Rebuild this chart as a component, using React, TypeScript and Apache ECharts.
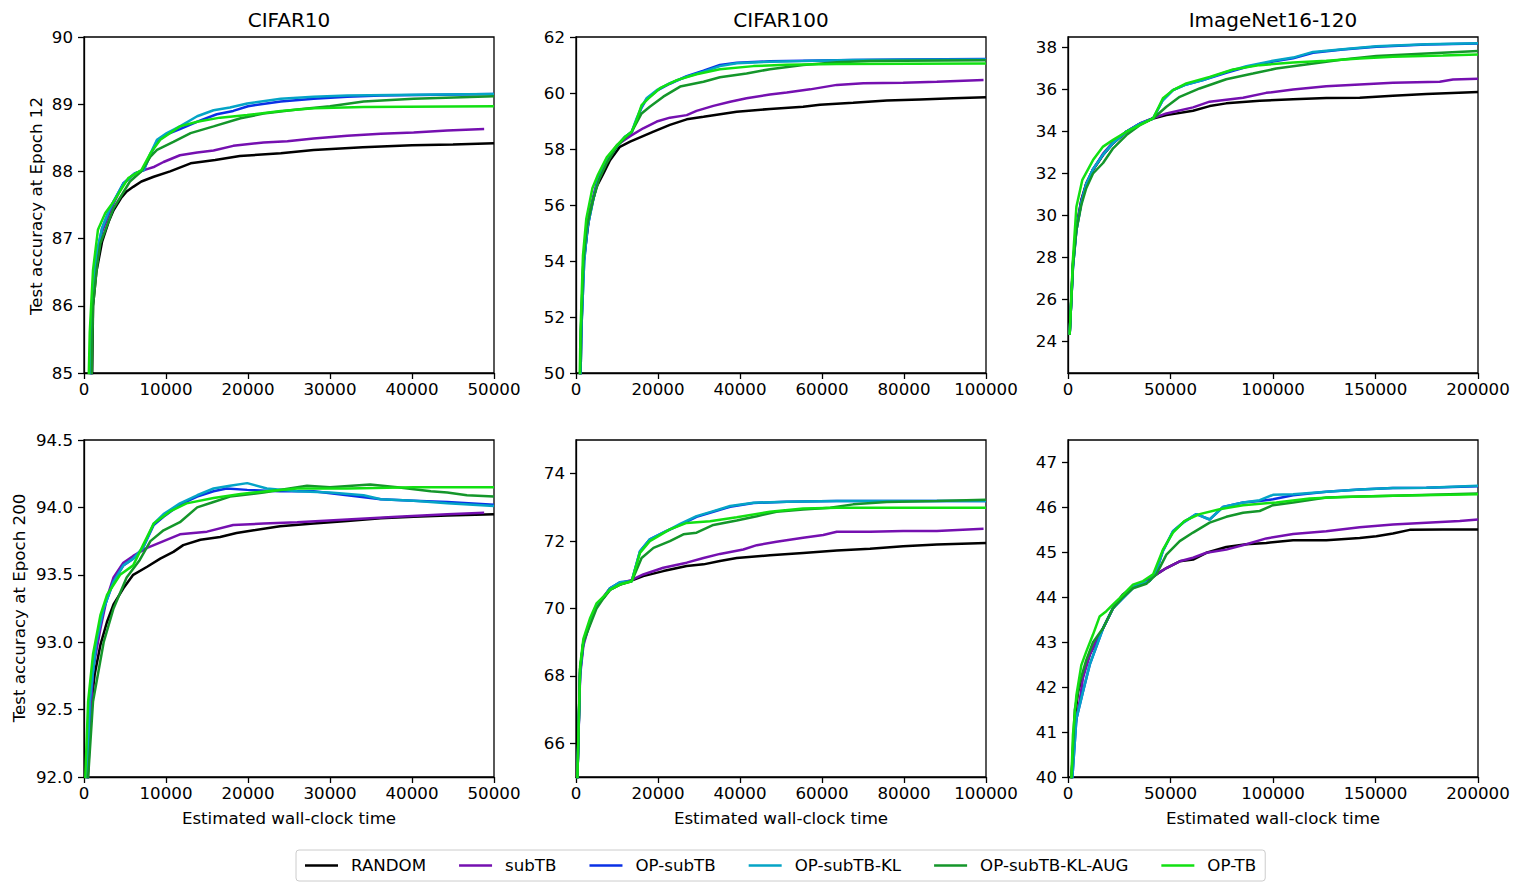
import React, { useEffect, useRef } from "react";
import * as echarts from "echarts";

const seriesNames = ["RANDOM", "subTB", "OP-subTB", "OP-subTB-KL", "OP-subTB-KL-AUG", "OP-TB"];
const seriesColors = ["#000000", "#7510b0", "#0a30e6", "#05a4c6", "#14962a", "#12e012"];

const titles = ["CIFAR10", "CIFAR100", "ImageNet16-120"];
const yNames = ["Test accuracy at Epoch 12", "Test accuracy at Epoch 200"];
const xName = "Estimated wall-clock time";

// ---------- CIFAR10, Epoch 12 ----------
const c10e12Random = [[900,84.0],[1100,86.0],[1500,86.5],[2200,86.95],[3000,87.25],[3600,87.42],[4500,87.6],[5200,87.7],[6000,87.77],[7000,87.85],[8500,87.92],[10500,88.0],[13000,88.12],[16000,88.17],[19000,88.23],[24000,88.27],[28000,88.32],[34000,88.36],[40000,88.39],[45000,88.4],[50000,88.42]];
const c10e12SubTB = [[700,84.0],[1000,86.0],[1500,86.7],[2200,87.1],[3000,87.35],[3600,87.52],[4800,87.82],[6200,87.97],[7600,88.03],[8600,88.07],[9700,88.14],[11700,88.24],[13800,88.28],[15800,88.31],[18200,88.38],[21900,88.43],[24800,88.45],[28000,88.49],[32100,88.53],[36200,88.56],[40200,88.58],[44300,88.61],[48800,88.63]];
const c10e12OpSubTB = [[700,84.0],[1000,86.0],[1500,86.75],[2200,87.15],[3000,87.4],[3600,87.55],[4800,87.82],[6200,87.97],[7300,88.02],[8000,88.22],[8900,88.45],[10100,88.55],[11700,88.63],[14200,88.76],[16200,88.85],[18200,88.9],[20000,88.97],[24000,89.04],[28000,89.08],[32100,89.11],[36200,89.13],[50000,89.15]];
const c10e12OpSubTBKL = [[700,84.0],[1000,86.0],[1500,86.75],[2200,87.15],[3000,87.4],[3600,87.55],[4800,87.82],[6200,87.97],[7300,88.02],[8000,88.24],[8900,88.47],[10100,88.57],[11700,88.67],[13800,88.82],[15800,88.91],[17800,88.95],[19900,89.01],[24000,89.08],[28000,89.11],[32100,89.13],[40200,89.14],[50000,89.15]];
const c10e12OpSubTBKLAug = [[800,84.0],[1100,86.0],[1600,86.6],[2000,86.93],[3600,87.45],[5600,87.85],[7000,88.0],[8100,88.22],[8900,88.32],[10900,88.44],[13000,88.57],[15800,88.67],[19100,88.79],[21900,88.86],[26000,88.92],[30000,88.97],[34100,89.04],[40200,89.08],[50000,89.12]];
const c10e12OpTB = [[400,84.0],[700,85.6],[1100,86.53],[1700,87.13],[2600,87.38],[3600,87.55],[5400,87.9],[7000,88.02],[8100,88.27],[9300,88.47],[11700,88.67],[13800,88.74],[16600,88.8],[19900,88.84],[24000,88.9],[28000,88.94],[34100,88.96],[50000,88.97]];

// ---------- CIFAR100, Epoch 12 ----------
const c100e12Random = [[1000,49],[1300,51.5],[1800,53.9],[3400,55.8],[5000,56.65],[6700,57.13],[8300,57.6],[10700,58.08],[13200,58.26],[18900,58.62],[22900,58.86],[27000,59.06],[31100,59.15],[39200,59.33],[47300,59.43],[55400,59.51],[59500,59.58],[67600,59.65],[75800,59.73],[83900,59.77],[92000,59.81],[100000,59.85]];
const c100e12SubTB = [[900,49],[1200,51.5],[1800,54.0],[2600,55.2],[4200,56.3],[5400,57.0],[7500,57.6],[10000,58.14],[13200,58.46],[16400,58.74],[19700,58.98],[22900,59.12],[27000,59.21],[29400,59.36],[33500,59.54],[37600,59.69],[41600,59.81],[47300,59.95],[51400,60.02],[57100,60.13],[63600,60.29],[70100,60.35],[79800,60.37],[88000,60.4],[99400,60.46]];
const c100e12OpSubTB = [[1000,49],[1300,51.5],[2000,54.0],[2800,55.2],[4200,56.2],[5400,56.9],[7500,57.55],[10000,58.1],[12000,58.44],[13600,58.6],[14800,59.05],[16000,59.48],[17200,59.78],[19700,60.08],[22900,60.33],[27000,60.6],[31100,60.8],[35100,61.0],[39200,61.08],[47300,61.13],[55400,61.15],[67600,61.18],[79800,61.2],[100000,61.21]];
const c100e12OpSubTBKL = [[1000,49],[1300,51.5],[2000,54.0],[2800,55.2],[4200,56.2],[5400,56.9],[7500,57.55],[10000,58.1],[12000,58.44],[13600,58.62],[14800,59.1],[16000,59.51],[17200,59.81],[19700,60.1],[22900,60.35],[27000,60.58],[31100,60.76],[35100,60.96],[39200,61.06],[47300,61.12],[55400,61.14],[67600,61.18],[79800,61.19],[100000,61.2]];
const c100e12OpSubTBKLAug = [[900,49],[1200,51.5],[1800,54.0],[2600,55.2],[4200,56.2],[5600,56.9],[7500,57.5],[10000,58.1],[12000,58.4],[13600,58.62],[16000,59.27],[18000,59.51],[21300,59.87],[25400,60.23],[31100,60.4],[35100,60.56],[41600,60.7],[47300,60.85],[55400,61.0],[63600,61.1],[71700,61.14],[79800,61.15],[100000,61.17]];
const c100e12OpTB = [[800,49],[1100,51.5],[1700,54.2],[2500,55.5],[4000,56.6],[5400,57.1],[7500,57.7],[10000,58.14],[12000,58.44],[13600,58.62],[14800,59.05],[16000,59.57],[17700,59.81],[20500,60.17],[24600,60.46],[29400,60.67],[35100,60.85],[43300,60.96],[51400,61.01],[63600,61.04],[100000,61.05]];

// ---------- ImageNet16-120, Epoch 12 ----------
const imgE12Random = [[800,24.32],[2400,27.73],[4100,29.47],[6500,30.74],[8900,31.53],[12200,32.17],[17100,32.88],[22000,33.44],[28500,33.99],[35000,34.36],[41500,34.62],[48000,34.78],[61000,34.99],[69100,35.21],[77200,35.34],[93500,35.46],[109800,35.54],[126000,35.59],[142300,35.61],[158500,35.7],[174800,35.78],[200000,35.88]];
const imgE12SubTB = [[800,24.32],[2400,27.6],[4100,29.4],[6500,30.7],[8900,31.5],[12200,32.2],[17100,32.95],[22000,33.5],[28500,34.0],[35000,34.38],[41500,34.64],[48000,34.86],[61000,35.15],[69100,35.42],[85400,35.61],[96700,35.84],[109800,36.0],[126000,36.16],[142300,36.24],[158500,36.32],[181300,36.37],[187800,36.48],[200000,36.51]];
const imgE12OpSubTB = [[800,24.32],[2400,27.5],[4100,29.3],[6500,30.6],[8900,31.5],[12200,32.2],[17100,32.9],[22000,33.45],[28500,34.0],[35000,34.36],[41500,34.62],[46300,35.5],[51200,35.97],[57700,36.24],[65900,36.45],[77200,36.8],[87000,37.07],[100000,37.33],[109800,37.49],[119500,37.75],[134100,37.9],[150400,38.04],[174800,38.14],[200000,38.19]];
const imgE12OpSubTBKL = [[800,24.32],[2400,27.5],[4100,29.3],[6500,30.6],[8900,31.5],[12200,32.2],[17100,32.9],[22000,33.45],[28500,34.0],[35000,34.36],[41500,34.62],[46300,35.5],[51200,35.97],[57700,36.24],[65900,36.45],[77200,36.84],[87000,37.11],[100000,37.37],[109800,37.52],[119500,37.79],[134100,37.92],[150400,38.06],[174800,38.16],[200000,38.2]];
const imgE12OpSubTBKLAug = [[800,24.32],[2400,27.6],[4100,29.3],[6500,30.5],[8900,31.3],[12200,32.0],[17100,32.5],[22000,33.2],[28500,33.83],[35000,34.3],[41500,34.62],[48000,35.18],[54500,35.65],[64200,36.05],[77200,36.49],[90200,36.76],[101600,37.0],[117900,37.21],[134100,37.43],[150400,37.59],[174800,37.71],[200000,37.83]];
const imgE12OpTB = [[800,24.32],[2400,27.9],[4100,30.42],[7000,31.7],[12200,32.64],[17100,33.28],[22000,33.6],[28500,33.99],[35000,34.3],[41500,34.62],[46300,35.58],[51200,35.97],[57700,36.29],[69100,36.6],[80500,36.95],[93500,37.16],[109800,37.29],[126000,37.37],[142300,37.48],[158500,37.56],[182900,37.62],[200000,37.67]];

// ---------- CIFAR10, Epoch 200 ----------
const c10e200Random = [[400,91.9],[700,92.44],[1300,92.76],[2000,92.98],[2800,93.15],[3600,93.28],[4800,93.4],[6000,93.5],[7700,93.56],[9300,93.62],[10900,93.67],[12100,93.72],[14200,93.76],[16600,93.78],[18600,93.81],[20700,93.83],[23900,93.86],[28000,93.88],[32100,93.9],[36200,93.92],[40200,93.93],[44300,93.94],[50000,93.95]];
const c10e200SubTB = [[400,91.9],[1100,92.8],[2000,93.1],[2800,93.33],[3600,93.48],[4800,93.59],[6000,93.64],[7700,93.7],[9700,93.75],[11700,93.8],[15000,93.82],[18200,93.87],[21900,93.88],[26000,93.89],[32100,93.91],[38200,93.93],[44300,93.95],[48800,93.96]];
const c10e200OpSubTB = [[400,91.9],[700,92.56],[1500,93.0],[2400,93.25],[3600,93.45],[4800,93.57],[6000,93.62],[7200,93.7],[8500,93.87],[9700,93.93],[11700,94.02],[13800,94.08],[15800,94.12],[17400,94.14],[19900,94.13],[23900,94.12],[28000,94.12],[32100,94.09],[36200,94.06],[40200,94.05],[44300,94.04],[50000,94.02]];
const c10e200OpSubTBKL = [[400,91.9],[700,92.56],[1500,93.0],[2400,93.25],[3600,93.45],[4800,93.57],[6000,93.62],[7200,93.7],[8500,93.88],[9700,93.95],[11700,94.03],[13800,94.09],[15800,94.14],[17800,94.16],[19900,94.18],[22300,94.14],[26000,94.12],[30000,94.11],[34100,94.09],[36200,94.06],[40200,94.05],[44300,94.03],[50000,94.01]];
const c10e200OpSubTBKLAug = [[400,91.9],[1100,92.56],[2400,93.0],[3600,93.25],[5200,93.48],[6800,93.61],[8100,93.75],[9700,93.83],[11700,93.89],[13800,94.0],[15800,94.04],[17800,94.08],[21900,94.11],[27200,94.16],[30000,94.15],[34900,94.17],[38200,94.15],[42300,94.12],[44300,94.11],[46700,94.09],[50000,94.08]];
const c10e200OpTB = [[100,91.9],[500,92.56],[1100,92.91],[2000,93.2],[2800,93.35],[4400,93.5],[6000,93.57],[7200,93.72],[8500,93.88],[10500,93.97],[12500,94.03],[15800,94.07],[19100,94.1],[22300,94.12],[26000,94.14],[32100,94.14],[40200,94.15],[50000,94.15]];

// ---------- CIFAR100, Epoch 200 ----------
const c100e200Random = [[300,64.8],[1000,68.2],[1800,69.0],[3400,69.6],[5000,70.1],[6700,70.32],[8300,70.56],[10700,70.71],[13200,70.81],[16400,70.96],[21300,71.11],[27000,71.26],[31100,71.31],[35100,71.41],[39200,71.5],[47300,71.58],[55400,71.65],[63600,71.72],[71700,71.77],[79800,71.85],[88000,71.9],[100000,71.94]];
const c100e200SubTB = [[300,64.8],[1000,68.0],[1800,68.9],[3400,69.6],[5000,70.1],[6700,70.35],[8300,70.6],[10700,70.75],[13200,70.83],[16400,71.01],[21300,71.21],[27000,71.36],[31100,71.5],[35100,71.62],[40800,71.75],[44100,71.88],[48900,71.98],[55400,72.1],[60300,72.18],[63600,72.28],[71700,72.28],[79800,72.3],[88000,72.3],[99400,72.37]];
const c100e200OpSubTB = [[300,64.8],[1000,68.1],[1800,69.0],[3400,69.55],[5000,70.1],[6700,70.32],[8300,70.6],[10700,70.78],[13600,70.81],[15600,71.7],[18000,72.05],[22100,72.3],[25400,72.48],[29400,72.72],[33500,72.87],[37600,73.02],[43300,73.13],[51400,73.17],[63600,73.19],[100000,73.19]];
const c100e200OpSubTBKL = [[300,64.8],[1000,68.1],[1800,69.0],[3400,69.55],[5000,70.1],[6700,70.32],[8300,70.6],[10700,70.78],[13600,70.81],[15600,71.7],[18000,72.05],[22100,72.3],[25400,72.51],[29400,72.74],[33500,72.89],[37600,73.04],[43300,73.14],[51400,73.17],[63600,73.19],[100000,73.19]];
const c100e200OpSubTBKLAug = [[300,64.8],[1000,68.2],[1800,69.0],[3400,69.5],[5000,70.0],[6700,70.3],[8300,70.55],[10700,70.71],[13600,70.81],[16000,71.5],[18900,71.8],[22900,72.0],[26200,72.2],[29400,72.25],[33500,72.48],[39200,72.61],[44100,72.74],[48900,72.87],[55400,72.94],[62000,72.99],[67600,73.09],[75800,73.16],[88000,73.19],[100000,73.23]];
const c100e200OpTB = [[300,64.8],[1000,68.3],[1800,69.1],[3400,69.7],[5000,70.15],[6700,70.35],[8300,70.56],[10700,70.71],[13600,70.81],[15600,71.65],[18000,72.0],[22900,72.35],[27000,72.54],[32700,72.59],[39200,72.71],[47300,72.87],[55400,72.97],[63600,72.99],[100000,72.99]];

// ---------- ImageNet16-120, Epoch 200 ----------
const imgE200Random = [[1600,39.9],[3300,41.3],[4900,41.9],[7300,42.27],[10600,42.72],[13800,43.02],[17100,43.31],[22000,43.76],[26800,44.06],[31700,44.21],[38200,44.36],[43100,44.51],[48000,44.65],[54500,44.8],[61000,44.84],[67500,44.99],[77200,45.12],[87000,45.18],[96700,45.21],[109800,45.27],[126000,45.27],[142300,45.32],[150400,45.36],[158500,45.42],[166700,45.5],[182900,45.51],[200000,45.51]];
const imgE200SubTB = [[1600,39.9],[3300,41.08],[5700,41.7],[7300,42.2],[10600,42.72],[13800,43.02],[17100,43.31],[22000,43.76],[26800,44.06],[31700,44.21],[38200,44.36],[43100,44.51],[48000,44.65],[54500,44.8],[61000,44.88],[67500,44.99],[77200,45.06],[87000,45.18],[96700,45.31],[109800,45.41],[126000,45.47],[142300,45.56],[158500,45.62],[174800,45.66],[191100,45.7],[200000,45.73]];
const imgE200OpSubTB = [[2000,39.9],[4100,41.3],[7300,41.9],[10600,42.5],[17100,43.31],[22000,43.76],[26800,43.98],[33300,44.28],[39800,44.36],[43100,44.58],[46300,45.03],[51200,45.47],[56100,45.66],[62600,45.85],[69100,45.73],[75600,46.01],[85400,46.11],[93500,46.14],[100000,46.18],[109800,46.27],[126000,46.35],[142300,46.4],[158500,46.43],[174800,46.44],[200000,46.47]];
const imgE200OpSubTBKL = [[2000,39.9],[4100,41.3],[7300,41.9],[10600,42.5],[17100,43.31],[22000,43.76],[26800,43.98],[33300,44.28],[39800,44.36],[43100,44.58],[46300,45.03],[51200,45.47],[56100,45.66],[62600,45.85],[69100,45.73],[75600,46.01],[85400,46.11],[93500,46.16],[100000,46.28],[109800,46.29],[126000,46.35],[142300,46.4],[158500,46.43],[174800,46.44],[200000,46.48]];
const imgE200OpSubTBKLAug = [[1600,39.9],[3300,41.5],[5700,42.1],[8900,42.6],[12200,43.0],[17100,43.31],[22000,43.76],[26800,44.0],[31700,44.2],[38200,44.3],[43100,44.51],[48000,44.95],[54500,45.25],[61000,45.44],[69100,45.66],[77200,45.79],[85400,45.88],[93500,45.92],[100000,46.05],[109800,46.11],[126000,46.22],[142300,46.24],[158500,46.26],[200000,46.31]];
const imgE200OpTB = [[1600,39.9],[2400,40.93],[4100,41.82],[6500,42.49],[8900,42.79],[12200,43.17],[15400,43.57],[18700,43.69],[22000,43.84],[25200,43.98],[31700,44.28],[36600,44.36],[41500,44.51],[46300,45.06],[51200,45.44],[56900,45.7],[64200,45.85],[74000,45.96],[85400,46.05],[101600,46.11],[117900,46.2],[134100,46.23],[158500,46.26],[200000,46.29]];

// tick labels
const c10e12Ticks = [85, 86, 87, 88, 89, 90];
const c100e12Ticks = [50, 52, 54, 56, 58, 60, 62];
const imgE12Ticks = [24, 26, 28, 30, 32, 34, 36, 38];
const c10e200Ticks = [92.0, 92.5, 93.0, 93.5, 94.0, 94.5];
const c100e200Ticks = [66, 68, 70, 72, 74];
const imgE200Ticks = [40, 41, 42, 43, 44, 45, 46, 47];
const xTicksC10 = [0, 10000, 20000, 30000, 40000, 50000];
const xTicksC100 = [0, 20000, 40000, 60000, 80000, 100000];
const xTicksImg = [0, 50000, 100000, 150000, 200000];

const FONT = "DejaVu Sans";
const FS = 16.67;

const panels = [
  { left: 84, top: 37, height: 336, xMax: 50000, xTicks: xTicksC10, yMin: 85, yMax: 90, yTicks: c10e12Ticks, dec: 0,
    data: [c10e12Random, c10e12SubTB, c10e12OpSubTB, c10e12OpSubTBKL, c10e12OpSubTBKLAug, c10e12OpTB] },
  { left: 576, top: 37, height: 336, xMax: 100000, xTicks: xTicksC100, yMin: 50, yMax: 62, yTicks: c100e12Ticks, dec: 0,
    data: [c100e12Random, c100e12SubTB, c100e12OpSubTB, c100e12OpSubTBKL, c100e12OpSubTBKLAug, c100e12OpTB] },
  { left: 1068, top: 37, height: 336, xMax: 200000, xTicks: xTicksImg, yMin: 22.5, yMax: 38.5, yTicks: imgE12Ticks, dec: 0,
    data: [imgE12Random, imgE12SubTB, imgE12OpSubTB, imgE12OpSubTBKL, imgE12OpSubTBKLAug, imgE12OpTB] },
  { left: 84, top: 440, height: 337, xMax: 50000, xTicks: xTicksC10, yMin: 92, yMax: 94.5, yTicks: c10e200Ticks, dec: 1,
    data: [c10e200Random, c10e200SubTB, c10e200OpSubTB, c10e200OpSubTBKL, c10e200OpSubTBKLAug, c10e200OpTB] },
  { left: 576, top: 440, height: 337, xMax: 100000, xTicks: xTicksC100, yMin: 65, yMax: 75, yTicks: c100e200Ticks, dec: 0,
    data: [c100e200Random, c100e200SubTB, c100e200OpSubTB, c100e200OpSubTBKL, c100e200OpSubTBKLAug, c100e200OpTB] },
  { left: 1068, top: 440, height: 337, xMax: 200000, xTicks: xTicksImg, yMin: 40, yMax: 47.5, yTicks: imgE200Ticks, dec: 0,
    data: [imgE200Random, imgE200SubTB, imgE200OpSubTB, imgE200OpSubTBKL, imgE200OpSubTBKLAug, imgE200OpTB] },
];

function buildOption() {
  const axisLineStyle = { color: "#000", width: 1.3 };
  const grid = panels.map((p) => ({
    left: p.left, top: p.top, width: 410, height: p.height,
    show: true, borderColor: "#000", borderWidth: 1.3, backgroundColor: "transparent",
  }));
  const xAxis = panels.map((p, i) => ({
    type: "value", gridIndex: i, min: 0, max: p.xMax,
    axisLine: { show: true, onZero: false, lineStyle: axisLineStyle },
    axisTick: { show: true, length: 6, lineStyle: axisLineStyle, customValues: p.xTicks },
    axisLabel: { fontSize: FS, color: "#000", fontFamily: FONT, margin: 8, customValues: p.xTicks, formatter: (v: number) => String(v) },
    splitLine: { show: false },
  }));
  const yAxis = panels.map((p, i) => ({
    type: "value", gridIndex: i, min: p.yMin, max: p.yMax,
    axisLine: { show: true, onZero: false, lineStyle: axisLineStyle },
    axisTick: { show: true, length: 6, lineStyle: axisLineStyle, customValues: p.yTicks },
    axisLabel: { fontSize: FS, color: "#000", fontFamily: FONT, margin: 11, customValues: p.yTicks,
      formatter: (v: number) => v.toFixed(p.dec) },
    splitLine: { show: false },
  }));
  const series: any[] = [];
  panels.forEach((p, i) => {
    p.data.forEach((d, k) => {
      series.push({
        type: "line", name: seriesNames[k], xAxisIndex: i, yAxisIndex: i, data: d,
        symbol: "none", showSymbol: false, clip: true,
        lineStyle: { color: seriesColors[k], width: 2.5 },
        itemStyle: { color: seriesColors[k] },
      });
    });
  });
  const centers = [289, 781, 1273];
  const txt = (text: string, x: number, y: number, size: number, rot = 0) => ({
    type: "text", x, y, rotation: rot,
    style: { text, fontSize: size, fontFamily: FONT, fill: "#000",
      textAlign: "center", textVerticalAlign: "middle", align: "center", verticalAlign: "middle" },
  });
  const graphic = [
    ...titles.map((t, i) => txt(t, centers[i], 20, 20)),
    ...centers.map((c) => txt(xName, c, 818, FS)),
    txt(yNames[0], 36, 206, FS, Math.PI / 2),
    txt(yNames[1], 19, 608, FS, Math.PI / 2),
  ];
  return {
    animation: false,
    backgroundColor: "#fff",
    grid, xAxis, yAxis, series, graphic,
    legend: {
      data: seriesNames, left: 296, top: 850,
      borderColor: "#cccccc", borderWidth: 1, borderRadius: 3,
      padding: [7, 9, 7, 9], itemGap: 33, itemWidth: 33, itemHeight: 14,
      icon: "path://M0,6 L33,6 L33,8.5 L0,8.5 Z",
      textStyle: { fontSize: FS, fontFamily: FONT, color: "#000", padding: [0, 0, 0, 8] },
    },
  };
}

export default function App() {
  const ref = useRef<HTMLDivElement>(null);
  useEffect(() => {
    document.body.style.margin = "0";
    const chart = echarts.init(ref.current!, null, { renderer: "svg" });
    chart.setOption(buildOption() as any);
    return () => chart.dispose();
  }, []);
  return <div ref={ref} style={{ position: "fixed", left: 0, top: 0, width: 1523, height: 894 }} />;
}
